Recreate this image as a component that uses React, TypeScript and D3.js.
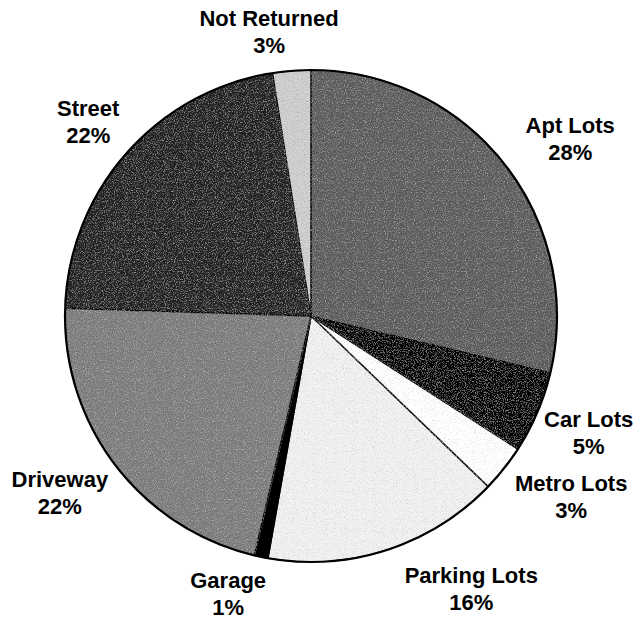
import React, { useMemo } from "react";
import * as d3 from "d3";

const WIDTH = 638;
const HEIGHT = 624;
const CENTER = { x: 311, y: 316 };
const RADIUS = 246;
const LABEL_RADIUS = 305;

// clockwise from 12 o'clock
const categories = [
  "Apt Lots",
  "Car Lots",
  "Metro Lots",
  "Parking Lots",
  "Garage",
  "Driveway",
  "Street",
  "Not Returned",
];
const shares = [28.7, 5.4, 3.1, 15.6, 0.9, 21.8, 22.0, 2.5];
const percentLabels = ["28%", "5%", "3%", "16%", "1%", "22%", "22%", "3%"];

const FILLS = [
  "#5e5e5e",
  "#060606",
  "#ffffff",
  "#f1f1f1",
  "#000000",
  "#7e7e7e",
  "#242424",
  "#cecece",
];

// Excel-ish label placement tweaks
const LABEL_NUDGE: [number, number][] = [
  [20, 19],
  [-3, 5],
  [21, -1],
  [66, -10],
  [-21, -14],
  [-9, -1],
  [6, 15],
  [-18, 27],
];

type Slice = { name: string; value: number; pct: string; fill: string };

const PieChart = () => {
  const data: Slice[] = categories.map((name, i) => ({
    name,
    value: shares[i],
    pct: percentLabels[i],
    fill: FILLS[i],
  }));

  const arcs = useMemo(() => {
    const pie = d3
      .pie<Slice>()
      .sort(null)
      .value((d) => d.value)
      .startAngle(0)
      .endAngle(2 * Math.PI);
    return pie(data);
  }, []);

  const arcGen = d3.arc<d3.PieArcDatum<Slice>>().innerRadius(0).outerRadius(RADIUS);

  return (
    <svg
      width={WIDTH}
      height={HEIGHT}
      style={{ position: "absolute", left: 0, top: 0, background: "#fff" }}
    >
      <defs>
        <filter id="grain" x="0" y="0" width="100%" height="100%">
          <feTurbulence
            type="fractalNoise"
            baseFrequency="0.9"
            numOctaves="2"
            seed="4"
            result="noise"
          />
          <feColorMatrix in="noise" type="saturate" values="0" result="gray" />
          <feBlend in="SourceGraphic" in2="gray" mode="overlay" result="mix" />
          <feComposite in="mix" in2="SourceGraphic" operator="in" />
        </filter>
      </defs>
      <g transform={`translate(${CENTER.x},${CENTER.y})`}>
        {arcs.map((a, i) => (
          <path
            key={i}
            d={arcGen(a) as string}
            fill={a.data.fill}
            filter={a.data.fill === "#000000" ? undefined : "url(#grain)"}
            stroke="#000"
            strokeWidth={1.5}
            strokeLinejoin="round"
          />
        ))}
        <circle r={RADIUS} fill="none" stroke="#000" strokeWidth={2.2} />
        {arcs.map((a, i) => {
          const mid = (a.startAngle + a.endAngle) / 2;
          const x = LABEL_RADIUS * Math.sin(mid) + LABEL_NUDGE[i][0];
          const y = -LABEL_RADIUS * Math.cos(mid) + LABEL_NUDGE[i][1];
          return (
            <text
              key={"l" + i}
              x={x}
              y={y}
              textAnchor="middle"
              fontFamily="'Liberation Sans', Arial, sans-serif"
              fontWeight="bold"
              fontSize={22}
              fill="#000"
            >
              <tspan x={x} y={y - 13}>
                {a.data.name}
              </tspan>
              <tspan x={x} y={y + 14}>
                {a.data.pct}
              </tspan>
            </text>
          );
        })}
      </g>
    </svg>
  );
};

export default function App() {
  return <PieChart />;
}
